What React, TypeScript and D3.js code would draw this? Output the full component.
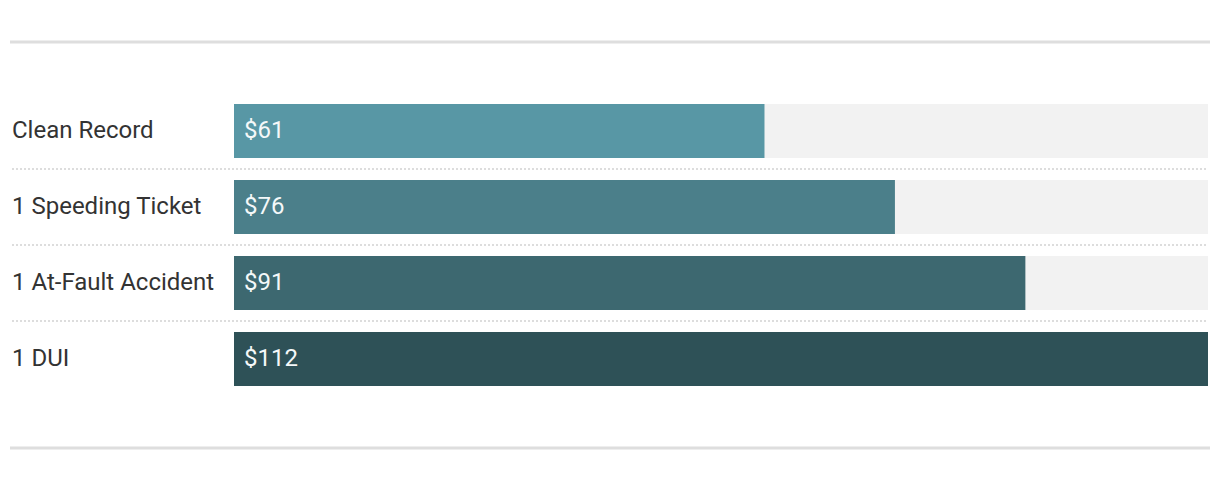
import React from "react";
import * as d3 from "d3";

// Driving record categories and average monthly premium
const categories: string[] = ["Clean Record", "1 Speeding Ticket", "1 At-Fault Accident", "1 DUI"];
const premiums: number[] = [61, 76, 91, 112];
const barColors: string[] = ["#5897a5", "#4b7f8a", "#3d6870", "#2e5157"];

const W = 1220;
const H = 480;

export default function App() {
  const trackLeft = 234;
  const trackRight = 1208;
  const x = d3.scaleLinear().domain([0, d3.max(premiums) as number]).range([trackLeft, trackRight]);
  const y = d3
    .scaleBand<string>()
    .domain(categories)
    .range([104, 386])
    .paddingInner(22 / 76)
    .paddingOuter(0);
  const bw = y.bandwidth();
  const fmt = (v: number) => `$${d3.format(",")(v)}`;

  return (
    <svg
      width={W}
      height={H}
      style={{ position: "absolute", left: 0, top: 0, background: "#fff" }}
      fontFamily="Roboto, 'Noto Sans', sans-serif"
    >
      {/* top and bottom rules */}
      <line x1={10} x2={1210} y1={42} y2={42} stroke="#dedede" strokeWidth={3} />
      <line x1={10} x2={1210} y1={448} y2={448} stroke="#dedede" strokeWidth={3} />

      {categories.map((c, i) => {
        const y0 = y(c) as number;
        return (
          <g key={c}>
            <rect x={trackLeft} y={y0} width={trackRight - trackLeft} height={bw} fill="#f2f2f2" />
            <rect x={trackLeft} y={y0} width={x(premiums[i]) - trackLeft} height={bw} fill={barColors[i]} />
            <text x={12} y={y0 + bw / 2} dy="0.3em" fontSize={24} fill="#333">
              {c}
            </text>
            <text x={trackLeft + 10} y={y0 + bw / 2} dy="0.3em" fontSize={24} fill="#f4f8f9">
              {fmt(premiums[i])}
            </text>
            {i < categories.length - 1 && (
              <line
                x1={12}
                x2={trackRight}
                y1={y0 + bw + 11}
                y2={y0 + bw + 11}
                stroke="#dddddd"
                strokeWidth={2}
                strokeDasharray="2 2"
              />
            )}
          </g>
        );
      })}
    </svg>
  );
}
